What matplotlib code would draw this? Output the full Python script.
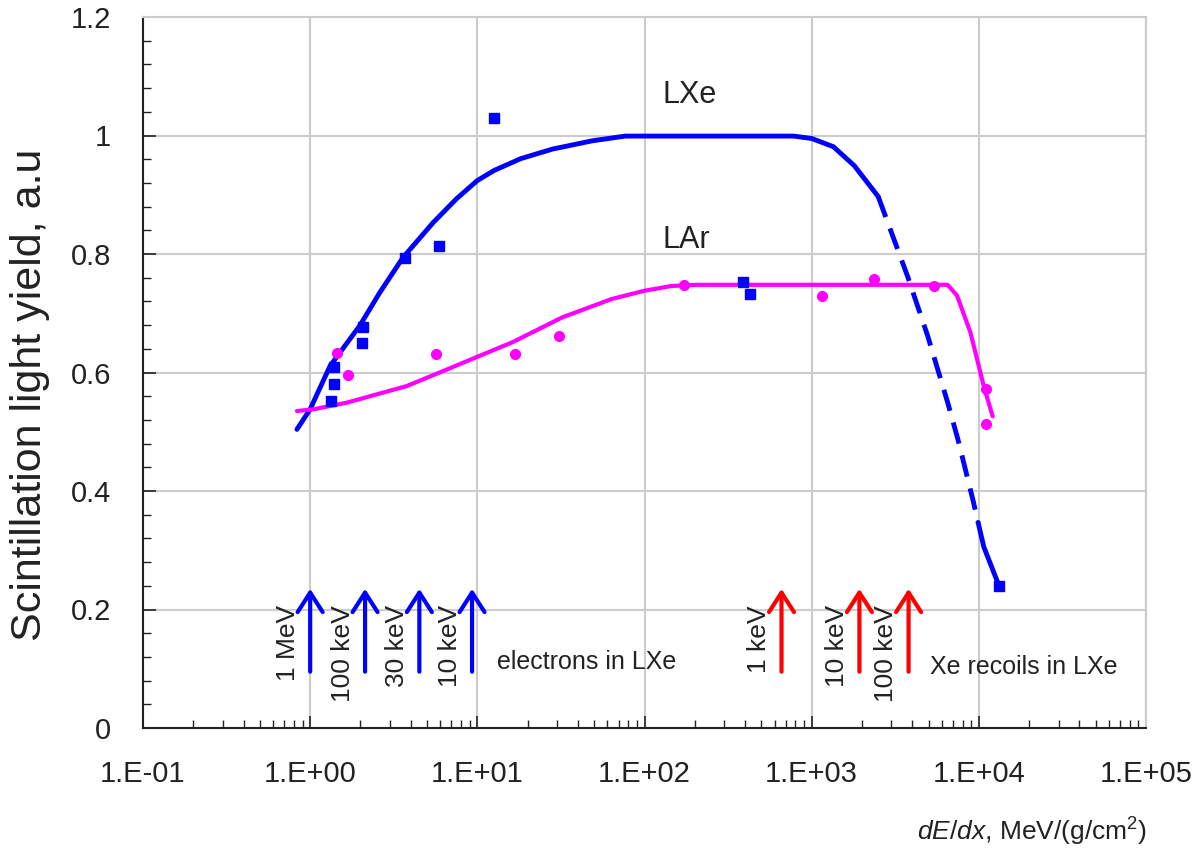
import matplotlib
matplotlib.use("Agg")
import matplotlib.pyplot as plt
from matplotlib.ticker import MultipleLocator, LogLocator, NullFormatter

plt.rcParams['font.family'] = ['Liberation Sans', 'DejaVu Sans']
plt.rcParams['mathtext.fontset'] = 'custom'
plt.rcParams['mathtext.rm'] = 'Liberation Sans'
plt.rcParams['mathtext.it'] = 'Liberation Sans:italic'

# LXe curve (solid part, dashed part, solid tail)
lxe_x = [0.833, 1.0, 1.315, 1.98, 2.61, 3.59, 5.44, 7.49, 10.0, 12.6, 18.2,
         28.1, 48.6, 76.6, 159, 780, 1000, 1350, 1800, 2500]
lxe_y = [0.504, 0.538, 0.611, 0.679, 0.735, 0.794, 0.853, 0.893, 0.924, 0.941,
         0.961, 0.977, 0.991, 0.999, 0.999, 0.999, 0.995, 0.981, 0.949, 0.897]
lxe_dash_x = [2500, 3740, 4940, 6500, 7500, 9200, 9900]
lxe_dash_y = [0.897, 0.763, 0.662, 0.55, 0.487, 0.386, 0.347]
lxe_tail_x = [9900, 10700, 13200]
lxe_tail_y = [0.347, 0.306, 0.24]

# LXe data points
lxe_pts_x = [1.33, 1.38, 1.38, 2.06, 2.03, 3.67, 5.86, 12.5, 391, 430, 13200]
lxe_pts_y = [0.552, 0.580, 0.610, 0.676, 0.650, 0.794, 0.814, 1.030, 0.753, 0.733, 0.24]

# LAr curve
lar_x = [0.833, 1.05, 1.65, 3.77, 5.95, 10.3, 16.2, 32.2, 63.6, 100, 145, 207,
         6500, 7400, 8900, 10700, 12100]
lar_y = [0.535, 0.538, 0.549, 0.577, 0.60, 0.628, 0.651, 0.693, 0.724, 0.738,
         0.746, 0.748, 0.748, 0.73, 0.668, 0.577, 0.526]

# LAr data points
lar_pts_x = [1.44, 1.69, 5.66, 16.9, 30.7, 173, 1160, 2360, 5370, 11100, 11100]
lar_pts_y = [0.633, 0.596, 0.631, 0.631, 0.661, 0.748, 0.729, 0.758, 0.746, 0.572, 0.513]

# energy markers
electron_x = [1.0, 2.13, 4.5, 9.3]
electron_labels = ['1 MeV', '100 keV', '30 keV', '10 keV']
recoil_x = [660, 1930, 3800]
recoil_labels = ['1 keV', '10 keV', '100 keV']

xticks = [1e-1, 1e0, 1e1, 1e2, 1e3, 1e4, 1e5]
xtick_labels = ['1.E-01', '1.E+00', '1.E+01', '1.E+02', '1.E+03', '1.E+04', '1.E+05']
yticks = [0, 0.2, 0.4, 0.6, 0.8, 1.0, 1.2]
ytick_labels = ['0', '0.2', '0.4', '0.6', '0.8', '1', '1.2']

fig = plt.figure(figsize=(11.97, 8.51), dpi=100)
ax = fig.add_axes([143 / 1197, 1 - 728 / 851, (1146 - 143) / 1197, (728 - 17) / 851])

ax.set_xscale('log')
ax.set_xlim(0.1, 1e5)
ax.set_ylim(0, 1.2)

ax.grid(True, which='major', color='#cccccc', lw=1.5, zorder=0)
ax.set_axisbelow(True)

# curves
line_kw = dict(solid_joinstyle='round', solid_capstyle='round', zorder=3)
ax.plot(lxe_x, lxe_y, color='#0000ff', lw=3.5, **line_kw)
ax.plot(lxe_dash_x, lxe_dash_y, color='#0000ff', lw=3.5, ls=(0, (4.5, 2.5)), zorder=3)
ax.plot(lxe_tail_x, lxe_tail_y, color='#0000ff', lw=3.5, **line_kw)
ax.plot(lar_x, lar_y, color='#ff00ff', lw=3, **line_kw)

ax.plot(lxe_pts_x, lxe_pts_y, 's', color='#0000ff', ms=7.5, zorder=4)
ax.plot(lar_pts_x, lar_pts_y, 'o', color='#ff00ff', ms=7, zorder=4)

# arrows
def energy_arrows(xs, labels, color):
    for x, lab in zip(xs, labels):
        ax.annotate('', xy=(x, 0.235), xytext=(x, 0.095),
                    arrowprops=dict(arrowstyle='->,head_length=0.7,head_width=0.45',
                                    lw=3, color=color, shrinkA=0, shrinkB=0,
                                    mutation_scale=20))
        ax.annotate(lab, xy=(x, 0.207), xytext=(-16, 0), textcoords='offset points',
                    rotation=90, ha='center', va='top', fontsize=19, color='#222222')

energy_arrows(electron_x, electron_labels, '#0000ff')
energy_arrows(recoil_x, recoil_labels, '#ff0000')

ax.text(13.2, 0.112, 'electrons in LXe', fontsize=18, color='#222222', va='center')
ax.text(5100, 0.103, 'Xe recoils in LXe', fontsize=18, color='#222222', va='center')
ax.text(128, 1.068, 'LXe', fontsize=22, color='#222222', va='center')
ax.text(128, 0.824, 'LAr', fontsize=22, color='#222222', va='center')

# ticks
ax.set_xticks(xticks, labels=xtick_labels)
ax.xaxis.set_minor_locator(LogLocator(base=10, subs=range(2, 10)))
ax.xaxis.set_minor_formatter(NullFormatter())
ax.set_yticks(yticks, labels=ytick_labels)
ax.yaxis.set_minor_locator(MultipleLocator(0.04))
ax.tick_params(which='both', direction='in', top=False, right=False, color='#222222')
ax.tick_params(which='major', length=9, width=1.2, labelsize=21, pad=23, labelcolor='#222222')
ax.tick_params(which='minor', length=6, width=1.0)

for s in ['left', 'bottom']:
    ax.spines[s].set_color('#222222')
    ax.spines[s].set_linewidth(1.5)
for s in ['top', 'right']:
    ax.spines[s].set_color('#cccccc')
    ax.spines[s].set_linewidth(1.5)

fig.text(30 / 1197, 1 - 395 / 851, 'Scintillation light yield, a.u', rotation=90,
         ha='center', va='center', fontsize=31, color='#222222')
fig.text(1147 / 1197, 1 - 832 / 851, r'$\it{dE/dx}$, MeV/(g/cm$^2$)',
         ha='right', va='center', fontsize=19, color='#222222')

fig.savefig('out.png', dpi=100)
